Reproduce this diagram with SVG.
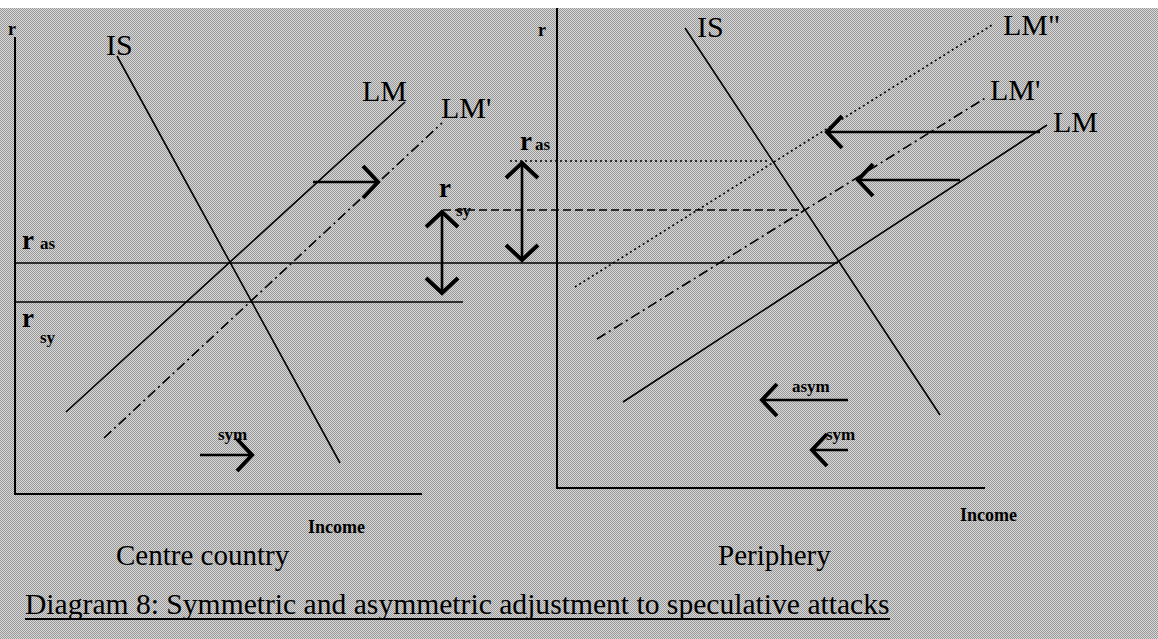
<svg xmlns="http://www.w3.org/2000/svg" width="1158" height="639" viewBox="0 0 1158 639">
<defs>
<pattern id="dots" width="2" height="2" patternUnits="userSpaceOnUse">
<rect width="2" height="2" fill="#d8d8d8"/>
<rect width="1" height="1" fill="#989898"/>
<rect x="1" y="1" width="1" height="1" fill="#989898"/>
</pattern>
<marker id="chev" markerUnits="userSpaceOnUse" viewBox="-24 -24 32 48" markerWidth="32" markerHeight="48" refX="0" refY="0" orient="auto-start-reverse">
<path d="M-15,-16 L0,0 L-15,16" fill="none" stroke="#000" stroke-width="4"/>
</marker>
<style>
text{font-family:"Liberation Serif","Times New Roman",serif;fill:#000}
.lbl{font-size:30px}
.big{font-size:29px}
.sub{font-size:17px;font-weight:bold}
.rr{font-size:27px;font-weight:bold}
.ax{font-size:18px;font-weight:bold}
.axis{fill:none;stroke:#000;stroke-width:2}
.crv{fill:none;stroke:#000;stroke-width:1.6}
.dd{stroke-dasharray:10 4 2 4}
.dot{stroke-dasharray:2 3}
.dash{stroke-dasharray:8 4}
.arr{fill:none;stroke:#000;stroke-width:2.6;marker-end:url(#chev)}
.arr2{fill:none;stroke:#000;stroke-width:2.6;marker-start:url(#chev);marker-end:url(#chev)}
</style>
</defs>
<rect width="1158" height="639" fill="url(#dots)"/>
<rect width="1158" height="8" fill="#fff"/>

<g id="left-panel">
<path class="axis" d="M15,37 V494 H422"/>
<text class="ax" x="8" y="35">r</text>
<line class="crv" x1="117" y1="56" x2="340" y2="463"/>
<text class="lbl" x="106" y="55">IS</text>
<line class="crv" x1="66" y1="412" x2="405" y2="102"/>
<text class="lbl" x="362" y="101">LM</text>
<line class="crv dd" x1="104" y1="438" x2="442" y2="123"/>
<text class="lbl" x="441" y="118">LM'</text>
<line class="crv" x1="15" y1="302" x2="463" y2="302"/>
<text class="rr" x="22" y="249">r</text><text class="sub" x="40" y="249">as</text>
<text class="rr" x="22" y="327">r</text><text class="sub" x="40" y="343">sy</text>
<text class="sub" x="218" y="440">sym</text>
<text class="ax" x="308" y="533">Income</text>
<text class="big" x="116" y="565">Centre country</text>
</g>

<g id="middle">
<line class="crv" x1="15" y1="263" x2="838" y2="263"/>
<line class="crv dash" x1="443" y1="210" x2="805" y2="210"/>
<line class="crv dot" x1="510" y1="161" x2="770" y2="161"/>
<text class="rr" x="439" y="197">r</text><text class="sub" x="456" y="216">sy</text>
<text class="rr" x="520" y="150">r</text><text class="sub" x="535" y="150">as</text>
</g>

<g id="right-panel">
<path class="axis" d="M557,8 V488 H985"/>
<text class="ax" x="538" y="36">r</text>
<line class="crv" x1="685" y1="28" x2="940" y2="415"/>
<text class="lbl" x="697" y="37">IS</text>
<line class="crv" x1="623" y1="402" x2="1047" y2="125"/>
<text class="lbl" x="1053" y="132">LM</text>
<line class="crv dd" x1="597" y1="339" x2="987" y2="97"/>
<text class="lbl" x="990" y="100">LM'</text>
<line class="crv dot" x1="575" y1="287" x2="992" y2="25"/>
<text class="lbl" x="1003" y="35">LM"</text>
<text class="sub" x="792" y="392">asym</text>
<text class="sub" x="826" y="440">sym</text>
<text class="ax" x="960" y="521">Income</text>
<text class="big" x="718" y="565">Periphery</text>
</g>

<g id="connectors">
<path class="arr" d="M313,182 H378"/>
<path class="arr" d="M200,455 H252"/>
<path class="arr2" d="M442,212 V293"/>
<path class="arr2" d="M522,163 V260"/>
<path class="arr" d="M1040,132 H827"/>
<path class="arr" d="M960,180 H858"/>
<path class="arr" d="M848,400 H762"/>
<path class="arr" d="M848,450 H812"/>
</g>

<g id="caption">
<text x="25" y="614" style="font-size:29.6px">Diagram 8: Symmetric and asymmetric adjustment to speculative attacks</text>
<line x1="25" y1="619" x2="890" y2="619" stroke="#000" stroke-width="2"/>
</g>
</svg>
